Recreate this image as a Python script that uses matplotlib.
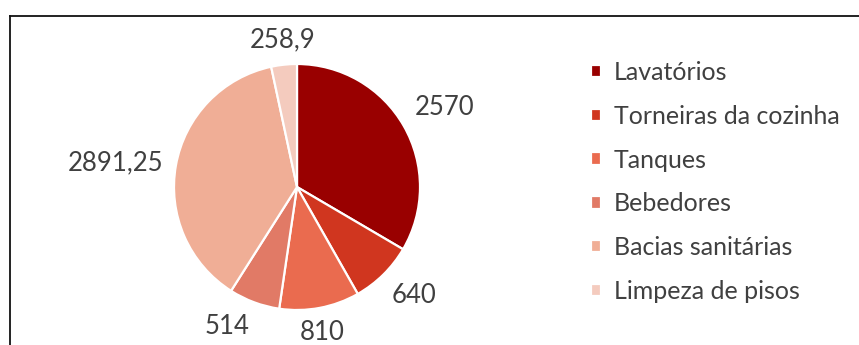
import numpy as np
import matplotlib.pyplot as plt
from matplotlib.lines import Line2D

# consumo por tipo de uso
categorias = ['Lavatórios', 'Torneiras da cozinha', 'Tanques', 'Bebedores',
              'Bacias sanitárias', 'Limpeza de pisos']
valores = [2570, 640, 810, 514, 2891.25, 258.9]
rotulos = ['2570', '640', '810', '514', '2891,25', '258,9']
cores = ['#990000', '#d0361f', '#ea6b4f', '#e17a66', '#f0ae96', '#f4cbbe']

plt.rcParams['font.family'] = ['Lato', 'DejaVu Sans']

W, H = 859, 345
fig = plt.figure(figsize=(W / 100, H / 100), dpi=100)
ax = fig.add_axes([0, 0, 1, 1])

cx, cy, r = 297, H - 187, 123
wedges, _ = ax.pie(valores, colors=cores, startangle=90, counterclock=False,
                   center=(cx, cy), radius=r,
                   wedgeprops=dict(edgecolor='white', linewidth=1.6))
ax.set_xlim(0, W)
ax.set_ylim(0, H)
ax.set_aspect('equal')
ax.axis('off')

# rotulos de valor fora da fatia
for w, txt in zip(wedges, rotulos):
    ang = np.deg2rad((w.theta1 + w.theta2) / 2)
    c, s = np.cos(ang), np.sin(ang)
    d = r * 1.1
    ha = 'left' if c > 0.3 else ('right' if c < -0.3 else 'center')
    va = 'bottom' if s > 0.3 else ('top' if s < -0.3 else 'center')
    ax.text(cx + d * c, cy + d * s, txt, ha=ha, va=va, fontsize=18.5,
            color='#404040')

fig.legend(wedges, categorias, loc='upper left',
           bbox_to_anchor=(581 / W, 1 - 51 / H), frameon=False,
           fontsize=18, labelcolor='#404040',
           handlelength=0.4, handleheight=0.4, handletextpad=0.5,
           labelspacing=0.83, borderaxespad=0)

# moldura superior e esquerda
fig.add_artist(Line2D([10 / W, 1], [1 - 16 / H, 1 - 16 / H], color='#111111',
                      linewidth=1.3, transform=fig.transFigure))
fig.add_artist(Line2D([10 / W, 10 / W], [0, 1 - 16 / H], color='#111111',
                      linewidth=1.3, transform=fig.transFigure))

fig.savefig('out.png', dpi=100, facecolor='white')
